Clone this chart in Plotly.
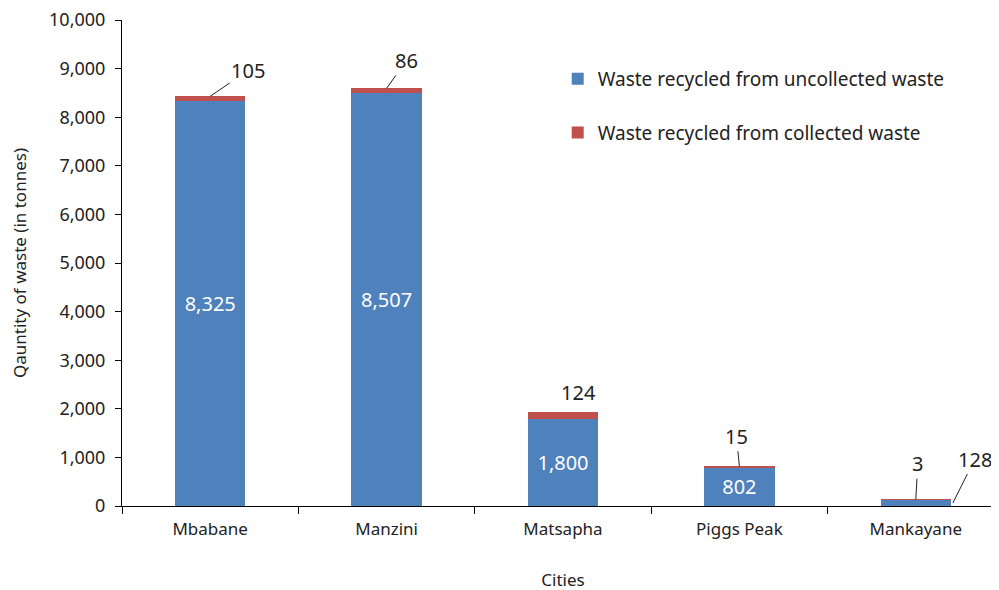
import plotly.graph_objects as go

# data
cities = ["Mbabane", "Manzini", "Matsapha", "Piggs Peak", "Mankayane"]
uncollected = [8325, 8507, 1800, 802, 128]
collected = [105, 86, 124, 15, 3]

# inside labels for the blue bars (Mankayane is labelled outside)
uncollected_text = ["8,325", "8,507", "1,800", "802", ""]

FONT = "Noto Sans"
BLUE = "#4F81BD"
RED = "#C0504D"

fig = go.Figure()

fig.add_trace(go.Bar(
    name="Waste recycled from uncollected waste",
    x=cities, y=uncollected,
    marker_color=BLUE, marker_line_width=0,
    width=0.4,
    text=uncollected_text, textposition="inside",
    insidetextanchor="middle",
    textfont=dict(color="white", size=20, family=FONT),
    legendgroup="a",
))
fig.add_trace(go.Bar(
    name="Waste recycled from collected waste",
    x=cities, y=collected,
    marker_color=RED, marker_line_width=0,
    width=0.4,
    legendgroup="b",
))

# outside labels for the red segments, with leader lines
label_off = [(38, -26, True), (20, -28, True), (15, -20, False), (-3, -30, True), (2, -36, True)]
for i, c in enumerate(cities):
    ax, ay, arrow = label_off[i]
    top = uncollected[i] + collected[i]
    fig.add_annotation(
        x=c, y=top, text=f"{collected[i]:,}",
        showarrow=True, arrowhead=0, arrowwidth=1, arrowcolor="#222" if arrow else "rgba(0,0,0,0)",
        ax=ax, ay=ay,
        font=dict(size=20, family=FONT, color="#222"),
    )

# Mankayane blue value sits outside
fig.add_annotation(
    x=4.21, y=60, text=f"{uncollected[4]:,}",
    showarrow=True, arrowhead=0, arrowwidth=1, arrowcolor="#222",
    ax=22, ay=-44,
    font=dict(size=20, family=FONT, color="#222"),
)

# page body adds an 8px offset, margins compensate for it
fig.update_layout(
    barmode="stack",
    width=999, height=590,
    margin=dict(l=114, r=3, t=12, b=92),
    plot_bgcolor="white", paper_bgcolor="white",
    font=dict(family=FONT, size=17, color="#222"),
    legend=dict(
        x=0.494, y=0.918, xanchor="left", yanchor="top",
        traceorder="grouped", tracegroupgap=26,
        font=dict(size=19, family=FONT, color="#222"),
        itemwidth=30,
    ),
    xaxis=dict(
        range=[-0.5, 4.5], automargin=False,
        showline=True, linecolor="black", linewidth=1,
        ticks="outside", tickson="boundaries", ticklen=7, tickcolor="black",
        ticklabelstandoff=8,
        tickfont=dict(size=17),
        title=dict(text="Cities", font=dict(size=17), standoff=34),
    ),
    yaxis=dict(
        range=[0, 10000], dtick=1000, tickformat=",d", automargin=False,
        showgrid=False, zeroline=False,
        showline=True, linecolor="black", linewidth=1,
        ticks="outside", ticklen=6, tickcolor="black",
        ticklabelstandoff=6, ticklabeloverflow="allow",
        tickfont=dict(size=18),
        title=dict(text="Qauntity of waste (in tonnes)", font=dict(size=17), standoff=20),
    ),
)

fig.write_html("out.html")
